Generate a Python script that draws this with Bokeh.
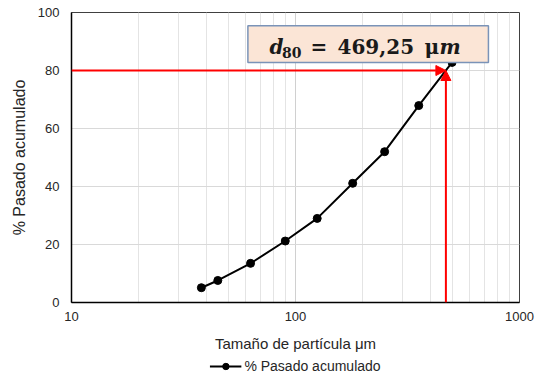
from bokeh.plotting import figure
from bokeh.layouts import column
from bokeh.models import (FixedTicker, PrintfTickFormatter, Arrow, NormalHead,
                          BoxAnnotation, Label, Legend, LegendItem)
from bokeh.core.properties import value
from bokeh.embed import file_html
from bokeh.resources import INLINE

# ---- data ----
size_um = [38, 45, 63, 90, 125, 180, 250, 355, 500]
passing_pct = [5.1, 7.6, 13.5, 21.2, 29.0, 41.1, 52.0, 67.9, 82.8]
x_ticks = [10, 100, 1000]
x_minor_ticks = [20, 30, 40, 50, 60, 70, 80, 90, 200, 300, 400, 500, 600, 700, 800, 900]
y_ticks = [0, 20, 40, 60, 80, 100]
d80_value = 469.25
target_pct = 80
series_name = "% Pasado acumulado"
x_title = "Tamaño de partícula μm"
y_title = "% Pasado acumulado"

SANS = "Liberation Sans"
SERIF = "DejaVu Serif"
TXT = "#262626"

p = figure(width=538, height=356, x_axis_type="log", x_range=(10, 1000), y_range=(0, 100),
           output_backend="svg", toolbar_location=None,
           min_border_left=71, min_border_right=19, min_border_top=12, min_border_bottom=54)

p.background_fill_color = "white"
p.border_fill_color = "white"
p.outline_line_color = "#404040"
p.outline_line_width = 1

# grid
p.xgrid.ticker = FixedTicker(ticks=x_ticks, minor_ticks=x_minor_ticks)
p.xgrid.grid_line_color = "#D0D0D0"
p.xgrid.minor_grid_line_color = "#E4E4E4"
p.ygrid.ticker = FixedTicker(ticks=y_ticks)
p.ygrid.grid_line_color = "#D9D9D9"

# axes
p.xaxis.ticker = FixedTicker(ticks=x_ticks, minor_ticks=x_minor_ticks)
p.xaxis.formatter = PrintfTickFormatter(format="%d")
p.yaxis.ticker = FixedTicker(ticks=y_ticks)
for ax in (p.xaxis, p.yaxis):
    ax.axis_line_color = "black"
    ax.axis_line_width = 1.5
    ax.major_tick_out = 0
    ax.major_tick_in = 0
    ax.minor_tick_out = 0
    ax.minor_tick_in = 0
    ax.major_label_text_font = SANS
    ax.major_label_text_font_size = "13px"
    ax.major_label_text_color = TXT
    ax.axis_label_text_font = SANS
    ax.axis_label_text_font_style = "normal"
    ax.axis_label_text_color = TXT

p.xaxis.axis_label = x_title
p.xaxis.axis_label_text_font_size = "15px"
p.xaxis.major_label_standoff = 9
p.xaxis.axis_label_standoff = 11
p.yaxis.axis_label = y_title
p.yaxis.axis_label_text_font_size = "16px"
p.yaxis.major_label_standoff = 12
p.yaxis.axis_label_standoff = 7

# series
line_style = dict(line_color="black", line_width=2)
marker_style = dict(size=8, fill_color="black", line_color="black")
p.line(size_um, passing_pct, **line_style)
p.scatter(size_um, passing_pct, **marker_style)

# red arrows marking d80
p.add_layout(Arrow(end=NormalHead(size=10, fill_color="red", line_color="red"),
                   x_start=10, y_start=target_pct, x_end=d80_value, y_end=target_pct,
                   line_color="red", line_width=2))
p.add_layout(Arrow(end=NormalHead(size=10, fill_color="red", line_color="red"),
                   x_start=d80_value, y_start=0, x_end=d80_value, y_end=target_pct,
                   line_color="red", line_width=2))

# annotation box
p.add_layout(BoxAnnotation(left=61.3, right=726.6, bottom=82.8, top=95.4,
                           fill_color="#FBE5D6", fill_alpha=1,
                           line_color="#7A93B8", line_width=1.5, line_alpha=1))

main_base = 88.2
sub_base = 86.3
label_pieces = [
    ("d", 198, main_base, "20px", "bold italic"),
    ("80", 210.5, sub_base, "14px", "bold"),
    ("=", 239, main_base, "20px", "bold"),
    ("469,25", 266, main_base, "20px", "bold"),
    ("μ", 353, main_base, "20px", "bold"),
    ("m", 368, main_base, "20px", "bold italic"),
]
for txt, xo, yb, fs, st in label_pieces:
    p.add_layout(Label(x=10, y=yb, x_offset=xo, text=txt, text_font=SERIF,
                       text_font_size=fs, text_font_style=st, text_color="#1a1a1a",
                       text_align="left", text_baseline="alphabetic"))

# legend strip below the chart (its renderers sit outside its visible range)
leg = figure(width=538, height=20, x_range=(0, 1), y_range=(0, 1),
             output_backend="svg", toolbar_location=None,
             x_axis_location=None, y_axis_location=None,
             min_border_left=71, min_border_right=19, min_border_top=0, min_border_bottom=0)
leg.grid.visible = False
leg.outline_line_color = None
leg.background_fill_color = "white"
leg.border_fill_color = "white"
lr = leg.line(size_um, passing_pct, **line_style)
ls = leg.scatter(size_um, passing_pct, **marker_style)
legend = Legend(items=[LegendItem(label=value(series_name), renderers=[lr, ls])],
                location="center", orientation="horizontal",
                border_line_color=None, background_fill_alpha=0,
                margin=0, padding=0, spacing=0,
                glyph_width=32, glyph_height=16, label_height=16, label_standoff=3,
                label_text_font=SANS, label_text_font_size="14px", label_text_color=TXT)
leg.add_layout(legend)

layout = column(p, leg, spacing=0)
open("out.html", "w").write(file_html(layout, INLINE))
